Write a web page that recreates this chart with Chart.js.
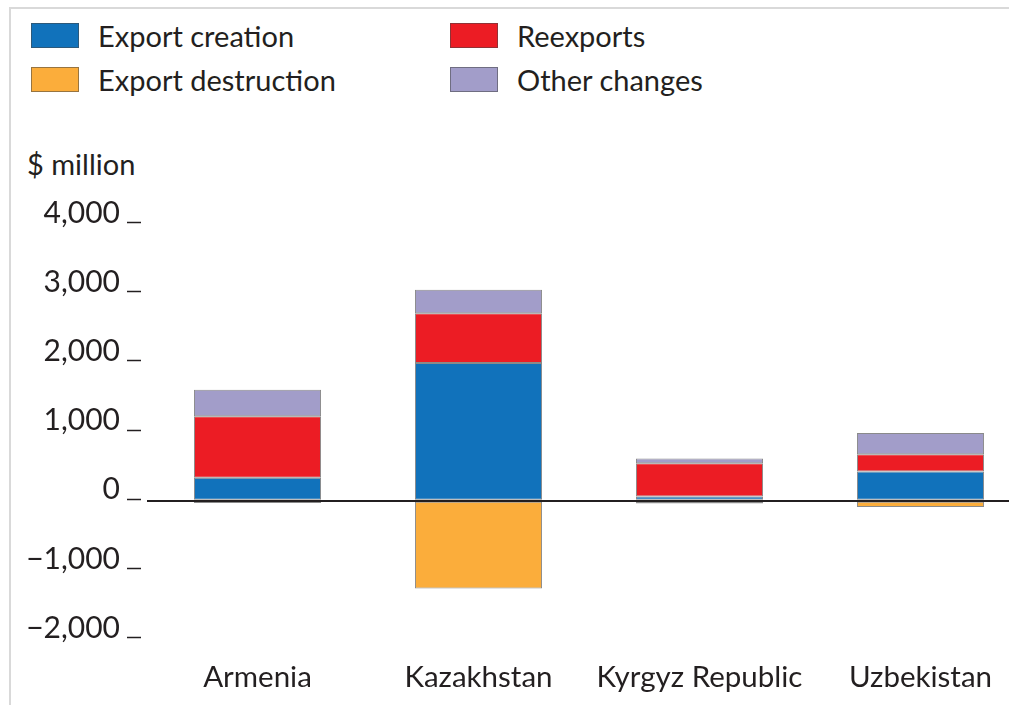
<!DOCTYPE html>
<html>
<head>
<meta charset="utf-8">
<script src="https://cdn.jsdelivr.net/npm/chart.js@4/dist/chart.umd.min.js"></script>
<style>
  body { margin: 0; overflow: hidden; background: #fff; font-family: Lato, sans-serif; color: #231f20; }
  #frame { position: absolute; left: 9px; top: 7px; width: 1100px; height: 800px; border-left: 2px solid #d9d9d9; border-top: 2px solid #d9d9d9; }
  #wrap { position: absolute; left: 0; top: 0; width: 1040px; height: 705px; }
  .item { position: absolute; font-size: 29px; line-height: 30px; white-space: nowrap; }
  .item span { position: absolute; left: 0; top: 2px; width: 48px; height: 25px; border: 1px solid rgba(70,70,70,0.55); box-sizing: border-box; }
  .item b { font-weight: normal; position: absolute; left: 67px; top: 0; }
  #unit { position: absolute; left: 27px; top: 146px; font-size: 29px; }
</style>
</head>
<body>
<div id="frame"></div>
<div id="legend"></div>
<div id="unit">$ million</div>
<div id="wrap"><canvas id="chart" width="1040" height="705"></canvas></div>
<script>
  // Values, $ million
  const categories = ['Armenia', 'Kazakhstan', 'Kyrgyz Republic', 'Uzbekistan']
  const exportCreation = [330, 1990, 60, 420]
  const exportDestruction = [-35, -1270, -40, -90]
  const reexports = [890, 720, 480, 250]
  const otherChanges = [385, 340, 70, 310]
  const yTicks = [-2000, -1000, 0, 1000, 2000, 3000, 4000]

  const seriesNames = ['Export creation', 'Export destruction', 'Reexports', 'Other changes']
  const seriesColors = ['#1172bb', '#fbad3b', '#ec1c24', '#a29dc9']
  const seriesData = [exportCreation, exportDestruction, reexports, otherChanges]

  // Legend, two columns like the original
  const legendPos = [[31, 21], [31, 65], [450, 21], [450, 65]]
  const legend = document.getElementById('legend')
  seriesNames.forEach(function (name, i) {
    const d = document.createElement('div')
    d.className = 'item'
    d.style.left = legendPos[i][0] + 'px'
    d.style.top = legendPos[i][1] + 'px'
    d.innerHTML = '<span style="background:' + seriesColors[i] + '"></span><b>' + name + '</b>'
    legend.appendChild(d)
  })

  // short dash drawn under each y tick label
  const tickDash = {
    id: 'tickDash',
    afterDraw (chart) {
      const ctx = chart.ctx
      const y = chart.scales.y
      ctx.save()
      ctx.strokeStyle = '#231f20'
      ctx.lineWidth = 1.5
      y.ticks.forEach(function (t) {
        const py = Math.round(y.getPixelForValue(t.value)) - 1.5
        ctx.beginPath()
        ctx.moveTo(127, py)
        ctx.lineTo(141, py)
        ctx.stroke()
      })
      ctx.restore()
    }
  }

  const fmt = function (v) {
    const s = Math.abs(v).toLocaleString('en-US')
    return v < 0 ? '\u2212' + s : s
  }

  const ctx = document.getElementById('chart').getContext('2d')
  new Chart(ctx, {
    type: 'bar',
    data: {
      labels: categories,
      datasets: seriesNames.map(function (name, i) {
        return {
          label: name,
          data: seriesData[i],
          backgroundColor: seriesColors[i],
          borderColor: 'rgba(60,60,60,0.6)',
          borderWidth: 1,
          borderSkipped: false,
          barPercentage: 1,
          categoryPercentage: 0.575
        }
      })
    },
    options: {
      responsive: false,
      animation: false,
      devicePixelRatio: 1,
      layout: { padding: { top: 224, left: 27, right: 9, bottom: 6 } },
      plugins: { legend: { display: false }, tooltip: { enabled: false } },
      scales: {
        x: {
          stacked: true,
          grid: { display: false },
          border: { display: false },
          afterFit (scale) { scale.height = 60 },
          ticks: { padding: 13, color: '#231f20', font: { family: 'Lato', size: 29.5 }, maxRotation: 0 }
        },
        y: {
          stacked: true,
          min: -2000,
          max: 4000,
          z: 1,
          afterBuildTicks (scale) {
            scale.ticks = yTicks.map(function (v) { return { value: v } })
          },
          afterFit (scale) { scale.width = 120 },
          border: { display: false },
          grid: {
            drawTicks: false,
            lineWidth: 2,
            color: function (c) { return c.tick && c.tick.value === 0 ? '#231f20' : 'rgba(0,0,0,0)' }
          },
          ticks: {
            padding: 27,
            labelOffset: -11,
            color: '#231f20',
            font: { family: 'Lato', size: 30 },
            callback: function (v) { return fmt(v) }
          }
        }
      }
    },
    plugins: [tickDash]
  })
</script>
</body>
</html>
